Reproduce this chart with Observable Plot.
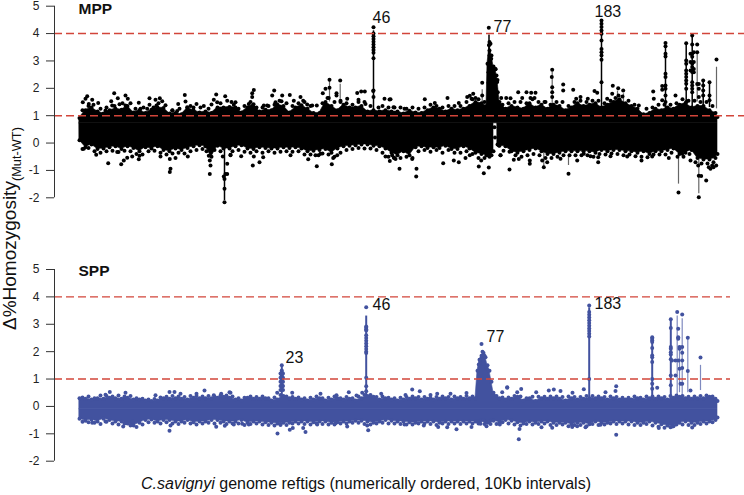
<!DOCTYPE html>
<html>
<head>
<meta charset="utf-8">
<script src="https://cdn.jsdelivr.net/npm/d3@7"></script>
<script src="https://cdn.jsdelivr.net/npm/@observablehq/plot@0.6"></script>
<style>
html,body{margin:0;padding:0;background:#fff}
#fig{position:relative;width:744px;height:495px;overflow:hidden;font-family:"Liberation Sans",Arial,sans-serif;color:#111}
#fig svg{position:absolute;left:0;background:transparent;overflow:visible}
#ytitle{position:absolute;left:0;top:330px;transform-origin:0 0;transform:rotate(-90deg);font-size:19px;line-height:19px;white-space:nowrap}
#ytitle span{font-size:12.8px;position:relative;top:5px}
#xtitle{position:absolute;left:141px;top:475px;font-size:16px;line-height:18px;white-space:nowrap}
</style>
</head>
<body>
<div id="fig"></div>
<script>
// ---- Data. x = position along the ordered genome, y = delta % homozygosity
const yTicks = [-2,-1,0,1,2,3,4,5];
const thresholds = [1,4];

// Outline of the dense band, MPP panel
const mppBandX = [
79,85,91,97,103,109,115,121,127,133,
139,145,151,157,163,169,175,181,187,193,
199,205,211,217,223,229,235,241,247,253,
259,265,271,277,283,289,295,301,307,313,
319,325,331,337,343,349,355,361,367,373,
379,385,391,397,403,409,415,421,427,433,
439,445,451,457,463,469,475,481,486,487,489,
491,493,495,497,499,505,511,517,523,529,
535,541,547,553,559,565,571,577,583,589,
595,601,607,613,619,625,631,637,643,649,
655,661,667,673,679,685,691,697,703,709,
715,717];
const mppBandHigh = [
.92,1.2,1.3,1.15,1.08,1.2,1.25,1.22,1.35,1.12,
1.2,1.1,1.22,1.3,1.28,1.08,1.1,1.05,1.28,1.2,
1.12,1.15,1.1,1.3,1.3,1.32,1.3,1.12,1.3,1.42,
1.15,1.22,1.2,1.4,1.35,1.12,1.3,1.38,1.25,1.1,
1.1,1.5,1.35,1.2,1.4,1.3,1.3,1.35,1.15,1.2,
1.15,1.2,1.15,1.15,1.08,1.18,1.12,1.1,1.2,1.3,
1.25,1.15,1.25,1.2,1.25,1.35,1.5,1.45,1.35,2.9,3.6,
3.2,2.8,2.7,2.3,1.5,1.25,1.35,1.3,1.25,1.45,
1.3,1.4,1.25,1.4,1.35,1.2,1.3,1.45,1.35,1.4,
1.45,1.3,1.4,1.5,1.6,1.45,1.35,1.25,1.05,1.1,
1.25,1.2,1.3,1.25,1.4,1.45,1.3,1.35,1.35,1.2,
1.1,.95];
const mppBandLow = [
.1,-.15,-.05,-.22,-.2,-.15,-.12,-.22,-.12,-.18,
-.3,-.15,-.2,-.12,-.25,-.3,-.2,-.25,-.18,-.12,
-.08,-.12,-.5,-.1,-.2,-.2,-.12,-.08,-.2,-.22,
-.15,-.18,-.2,-.2,-.15,-.18,-.15,-.2,-.3,-.28,
-.25,-.22,-.35,-.2,-.12,-.1,-.08,-.05,-.05,-.1,
-.12,-.2,-.35,-.45,-.3,-.45,-.15,-.12,-.18,-.15,
-.18,-.1,-.22,-.22,-.12,-.2,-.35,-.4,-.45,-.45,-.5,
-.45,-.3,NaN,-.05,-.1,-.12,-.3,-.35,-.3,-.25,
-.2,-.3,-.4,-.4,-.35,-.3,-.3,-.3,-.3,-.3,
-.35,-.25,-.3,-.25,-.25,-.3,-.3,-.35,-.3,-.4,
-.3,-.3,-.25,-.2,-.4,-.35,-.25,-.55,-.6,-.6,
-.55,-.4];
const mppBandMiddle = .72;

// Scattered points along the band's edges, MPP panel
const mppEdgeHighX = [82,88,93,100,106,114,119,122,130,135,143,149,153,158,165,172,179,190,193,200,208,220,231,238,244,250,256,262,268,274,279,286,292,298,304,310,322,327,334,340,346,352,358,364,370,378,382,388,394,400,406,412,418,424,430,436,442,448,454,460,466,472,478,484,502,508,514,520,526,532,538,544,550,556,562,568,574,580,586,592,598,604,610,615,622,628,634,646,652,658,664,670,676,682,688,694,700,706,712];
const mppEdgeHighY = [1.2,1.35,1.4,1.25,1.3,1.35,1.42,1.45,1.45,1.25,1.3,1.4,1.3,1.45,1.38,1.2,1.25,1.35,1.3,1.3,1.25,1.45,1.5,1.25,1.35,1.5,1.3,1.3,1.35,1.4,1.55,1.45,1.35,1.45,1.5,1.35,1.45,1.65,1.5,1.5,1.45,1.4,1.5,1.5,1.35,1.3,1.35,1.3,1.3,1.3,1.25,1.3,1.25,1.3,1.4,1.35,1.3,1.35,1.35,1.35,1.5,1.6,1.6,1.5,1.4,1.45,1.5,1.5,1.45,1.6,1.5,1.5,1.4,1.5,1.5,1.35,1.5,1.55,1.5,1.55,1.55,1.45,1.55,1.65,1.7,1.55,1.4,1.25,1.3,1.4,1.4,1.4,1.45,1.6,1.55,1.55,1.5,1.5,1.35];
const mppEdgeLowX = [82,88,94,100,106,112,118,124,130,136,142,148,154,160,166,172,178,184,190,196,202,206,214,220,232,238,244,250,256,262,268,274,280,286,292,298,304,310,318,322,328,334,340,346,352,358,364,370,376,382,388,394,400,406,412,418,424,430,436,442,448,454,460,466,472,478,484,503,509,515,521,527,533,539,545,551,557,563,569,575,581,587,593,599,605,611,617,623,629,635,641,647,653,659,665,671,677,683,689,695,701,707,713];
const mppEdgeLowY = [-.22,-.18,-.3,-.35,-.3,-.28,-.33,-.28,-.3,-.4,-.42,-.3,-.28,-.35,-.42,-.38,-.35,-.38,-.3,-.25,-.22,-.3,-.25,-.3,-.3,-.25,-.32,-.35,-.3,-.35,-.3,-.35,-.32,-.3,-.32,-.3,-.42,-.42,-.45,-.38,-.42,-.5,-.35,-.25,-.22,-.18,-.2,-.2,-.25,-.35,-.5,-.55,-.55,-.5,-.55,-.3,-.25,-.32,-.25,-.35,-.25,-.35,-.35,-.3,-.4,-.55,-.55,-.28,-.32,-.45,-.5,-.45,-.4,-.45,-.55,-.55,-.5,-.45,-.45,-.45,-.45,-.45,-.5,-.4,-.42,-.38,-.4,-.45,-.42,-.48,-.5,-.52,-.42,-.42,-.42,-.35,-.5,-.5,-.4,-.7,-.75,-.75,-.7];

// Individually visible points, MPP panel
const mppPointX = [
113.7,86.7,85,82.3,91.7,97.7,88.3,117.3,125,127.3,
110.7,149,138.3,159.3,155,161.7,184.3,185,177.7,196,
203.3,215.7,213.3,224.7,226.7,211,216.7,171.7,176.7,125,
111.7,105,156,186.7,140,146.7,
107.7,95.7,120.7,123.3,126.7,131.7,138.3,139,160,169.3,
170,169.3,175,187.3,116.7,83.3,209.3,210,209.3,208.3,
210,224,224,224,225,223.3,226.7,222.3,226.7,230,
329,339.7,329,325,322.3,336,336,328.3,253.3,251.7,
251.7,273.7,271.7,281.7,289.3,356.7,360.7,364.3,372.7,384,
389,346.7,358,365,300,293.3,302.7,281,235,233.3,
275,306.7,263.3,266.7,311.7,316.3,340,248.3,
252.3,259,240.7,316.3,331.3,307.7,315,253.3,262.7,332.7,
336.7,385,389.3,393.3,320,230,290,
373,373,373,373,373,373,373,373,373,373,373,373,
551.7,551.3,551.7,551.7,551.7,481.7,481.7,447,424.3,434.3,
458.3,472.7,469.3,466.7,471,475,517.7,526,530.7,535,
521.7,510,505.7,500.7,530,534,545,404,393,390,
488.3,489,488.5,490,489,489,490.7,489,491.7,495,
488,490,496,494,496.7,488,492,495,497.3,489,495,497,494,490,488,496,
494,494.5,498.3,500,
601,601,601,601,601,601,601,601,601,601,601,
665,665,665,665,665,665,665,665,665,665,661.7,661.7,
685.7,685.7,685.7,685.7,685.7,685.7,685.7,685.7,685.7,685.7,
691.7,691.7,691.7,691.7,691.7,691.7,691.7,691.7,691.7,691.7,691.7,691.7,
696.7,696.7,696.7,693.3,693.3,693.3,693.3,690,690,690,
702.7,702.7,702.7,702.7,709,709,709,716,698.3,698.3,698.3,
562.7,562.7,572.7,594,596.7,612.3,617.7,622.7,611.7,606.7,
618,652.7,653.3,675,638.3,580,575.7,587.3,661.7,
568,678,698.3,698.3,700.7,705.7,697.7,708.3,711.7,715.7,
710,713,597.7,597.7,590,576.7,560,626.7,651.7,641,
668.3,681.7,690,610,583.3,
399,415.7,416,411.7,395,391.7,442.7,453.3,458.3,465,
469.3,478.3,483.3,488.3,480.7,509,529.3,529.3,541.7,543.3,
546.7,500,513.3,518.3];
const mppPointY = [
1.82,1.71,1.62,1.49,1.58,1.46,1.43,1.64,1.74,1.62,
1.53,1.64,1.47,1.64,1.58,1.53,1.76,1.52,1.43,1.43,
1.35,1.77,1.58,1.71,1.55,1.41,1.49,1.19,1.17,1.37,
1.37,1.19,1.37,1.31,1.25,1.25,
-.74,-.43,-.77,-.64,-.54,-.49,-.59,-.46,-.49,-1.06,
-.94,-.58,-.55,-.49,-.33,-.21,-1.13,-.82,-.64,-.46,
-.33,-2.16,-1.67,-1.31,-1.13,-1.22,-1.13,-.49,-.76,-.45,
2.31,2.29,2.02,1.98,1.82,1.82,1.74,1.65,1.94,1.82,
1.68,1.92,1.74,1.74,1.76,1.83,1.88,1.88,1.9,1.62,
1.59,1.62,1.58,1.43,1.68,1.55,1.55,1.53,1.49,1.4,
1.49,1.41,1.37,1.37,1.37,1.37,1.55,1.43,
-.82,-.7,-.48,-.85,-.77,-.59,-.45,-.49,-.52,-.55,
-.45,-.49,-.66,-.54,-.39,-.43,-.45,
4.23,4.0,3.9,3.8,3.7,3.6,3.5,3.4,3.3,3.1,1.92,1.68,
2.68,2.41,2.04,1.86,1.68,2.2,1.74,1.65,1.6,1.46,
1.46,1.8,1.73,1.68,1.62,1.65,1.86,1.86,1.84,1.84,
1.65,1.64,1.65,1.65,1.65,1.65,1.5,1.25,1.31,1.6,
4.21,3.69,3.57,3.63,3.38,3.2,3.08,2.89,2.77,2.71,
2.59,2.47,2.47,2.35,2.23,2.2,2.05,1.98,1.86,1.74,1.68,1.5,1.45,1.32,1.2,1.25,
.58,.2,-.09,-.45,
4.48,4.36,4.24,4.11,3.99,3.75,3.44,3.32,3.2,3.04,2.22,
3.66,3.54,3.26,3.16,2.53,2.41,2.1,1.98,1.74,1.5,2.08,1.95,
3.65,3.02,2.9,2.65,2.53,2.41,2.29,2.17,1.98,1.5,
3.93,3.6,3.26,3.15,2.9,2.78,2.65,2.6,2.22,2.1,1.98,1.86,
3.6,3.32,2.16,3.32,2.96,2.71,2.59,2.65,2.96,3.26,
2.29,2.1,1.92,1.74,2.22,1.74,1.56,3.05,2.16,1.98,1.68,
2.14,1.92,1.95,1.9,1.84,2.09,2,1.92,1.8,1.62,
1.74,1.88,1.62,1.74,1.37,1.68,1.62,1.62,1.56,
-1.12,-1.81,-1.98,-1.19,-1.2,-1.37,-.82,-.88,-.82,-.82,
-.94,-.88,-.7,-.52,-.48,-.64,-.57,-.49,-.49,-.64,
-.55,-.39,-.64,-.48,-.39,
-.94,-1.22,-.94,-.58,-.58,-.45,-.74,-.64,-.7,-.55,
-.45,-.86,-1.1,-.89,-.64,-.97,-.76,-.64,-.64,-.88,
-.7,-.45,-.61,-.58];

// Vertical stems: heavy (solid) and light (grey)
const mppStemX    = [224,373,488.5,601,665,685.7,691.7,702.7,709];
const mppStemFrom = [0,1.2,1.5,1.2,1.2,1.2,1.3,1.3,1.3];
const mppStemTo   = [-2.1,4.1,3.95,4.4,3.55,3.6,3.9,2.3,2.2];
const mppGreyX    = [696.7,716,551.7,481.7,678,698.3,568,623,617,329,339.7,543.3];
const mppGreyFrom = [1.5,1.25,1.3,1.3,-.5,-.5,-.45,1.3,1.4,1.5,1.6,-.3];
const mppGreyTo   = [3.3,2.77,2.6,1.95,-1.5,-1.85,-.82,1.8,1.9,2.25,2.15,-.88];

const mppLabelText = ["46","77","183"];
const mppLabelX = [372,493,594];
const mppLabelY = [4.37,4.07,4.6];

// Outline of the dense band, SPP panel
const sppBandX = [
79,85,91,97,103,109,115,121,127,133,
139,145,151,157,163,169,175,181,187,193,
199,205,211,217,223,229,235,241,247,253,
259,265,271,277,283,289,295,301,307,313,
319,325,331,337,343,349,355,361,367,373,
379,385,391,397,403,409,415,421,427,433,
439,445,451,457,463,469,475,477,479,481,
483,485,487,489,491,493,499,505,511,517,
523,529,535,541,547,553,559,565,571,577,
583,589,595,601,607,613,619,625,631,637,
643,649,655,661,667,673,679,685,691,697,
703,709,715,717];
const sppBandHigh = [
.3,.28,.25,.3,.28,.32,.3,.28,.32,.25,
.25,.22,.2,.22,.3,.28,.3,.28,.25,.32,
.3,.3,.3,.32,.35,.32,.25,.22,.32,.28,
.28,.3,.22,.25,.38,.3,.28,.25,.22,.25,
.3,.22,.25,.3,.25,.28,.22,.3,.38,.35,
.25,.3,.25,.22,.25,.28,.3,.25,.28,.25,
.28,.3,.25,.3,.28,.3,.3,1.3,1.7,1.85,
1.95,1.8,1.5,1.3,.9,.5,.3,.25,.28,.35,
.22,.3,.2,.3,.28,.3,.28,.22,.3,.25,
.28,.3,.3,.3,.25,.3,.25,.25,.25,.3,
.25,.3,.28,.3,.25,.32,.35,.3,.28,.3,
.3,.35,.28,.2];
const sppBandLow = [
-.45,-.52,-.48,-.55,-.45,-.5,-.55,-.55,-.62,-.7,
-.6,-.5,-.48,-.55,-.5,-.5,-.55,-.55,-.5,-.58,
-.55,-.55,-.5,-.5,-.55,-.55,-.55,-.5,-.6,-.55,
-.55,-.58,-.6,-.62,-.6,-.6,-.55,-.55,-.55,-.58,
-.55,-.55,-.6,-.58,-.55,-.55,-.52,-.52,-.55,-.6,
-.55,-.5,-.52,-.55,-.55,-.58,-.6,-.55,-.55,-.55,
-.6,-.55,-.55,-.55,-.55,-.55,-.55,-.55,-.55,-.5,
-.5,-.55,-.6,-.55,-.5,-.52,-.58,-.5,-.52,-.58,
-.62,-.55,-.6,-.55,-.55,-.6,-.6,-.6,-.65,-.6,
-.6,-.65,-.55,-.6,-.6,-.55,-.55,-.55,-.55,-.6,
-.6,-.55,-.6,-.65,-.7,-.72,-.6,-.55,-.6,-.6,
-.55,-.55,-.5,-.4];
const sppBandMiddle = -.1;

// Scattered points along the band's edges, SPP panel
const sppEdgeHighX = [82,88,94,100,106,112,118,124,130,136,142,148,154,160,166,172,178,184,190,196,202,208,214,220,226,232,238,244,250,256,262,268,274,280,286,292,298,304,310,316,322,328,334,340,346,352,358,364,370,376,382,388,394,400,406,412,418,424,430,436,442,448,454,460,466,472,496,502,508,514,520,526,532,538,544,550,556,562,568,574,580,586,592,598,604,610,616,622,628,634,640,646,652,658,664,670,676,682,688,694,700,706,712];
const sppEdgeHighY = [.33,.36,.3,.4,.38,.36,.4,.36,.38,.3,.28,.25,.27,.33,.35,.38,.36,.34,.38,.38,.36,.38,.36,.4,.4,.36,.3,.32,.36,.34,.36,.3,.33,.42,.36,.34,.33,.3,.32,.36,.3,.32,.36,.3,.34,.3,.36,.42,.42,.34,.36,.32,.3,.32,.34,.36,.34,.34,.32,.34,.36,.34,.36,.34,.38,.36,.38,.33,.33,.38,.36,.3,.35,.35,.35,.36,.36,.34,.36,.34,.34,.38,.38,.36,.34,.36,.34,.32,.32,.36,.32,.36,.36,.36,.34,.38,.4,.38,.35,.36,.38,.4,.36];
const sppEdgeLowX = [82,88,94,100,106,112,118,124,130,136,142,148,154,160,166,172,178,184,190,196,202,208,214,220,226,232,238,244,250,256,262,268,274,280,286,292,298,304,310,316,322,328,334,340,346,352,358,364,370,376,382,388,394,400,406,412,418,424,430,436,442,448,454,460,466,472,478,484,490,496,502,508,514,520,526,532,538,544,550,556,562,568,574,580,586,592,598,604,610,616,622,628,634,640,646,652,658,664,670,676,682,688,694,700,706,712];
const sppEdgeLowY = [-.56,-.58,-.6,-.64,-.56,-.62,-.66,-.62,-.7,-.75,-.66,-.58,-.6,-.62,-.58,-.62,-.64,-.6,-.62,-.66,-.62,-.6,-.62,-.6,-.64,-.62,-.62,-.68,-.64,-.62,-.66,-.68,-.7,-.68,-.68,-.62,-.62,-.64,-.66,-.62,-.64,-.66,-.66,-.62,-.62,-.6,-.6,-.64,-.66,-.62,-.6,-.62,-.62,-.64,-.66,-.66,-.62,-.62,-.64,-.68,-.62,-.64,-.62,-.64,-.62,-.62,-.62,-.64,-.64,-.64,-.58,-.62,-.66,-.7,-.64,-.66,-.64,-.62,-.68,-.68,-.66,-.72,-.68,-.68,-.72,-.64,-.68,-.66,-.62,-.64,-.62,-.66,-.68,-.68,-.64,-.7,-.74,-.78,-.76,-.66,-.66,-.68,-.68,-.64,-.62,-.58];

// Individually visible points, SPP panel
const sppPointX = [
109.3,125,169,174,204,229,180,213.3,220.7,196,155,105,
169,91.7,105,122.7,215.7,224.3,233.3,132.3,170,
277,305,302.7,289.3,292.3,241.7,248.3,280,316.7,346.7,367.7,366.7,335,
281.3,281.3,281.3,281.3,281.3,281.3,281.3,281.3,281.3,281.3,
280,282.5,280,282.5,280,282.5,280,282.5,280,282.5,
291.7,320,230,348.3,380.7,356,361.7,276.7,336,
365.7,365.7,365.7,365.7,365.7,365.7,365.7,365.7,365.7,365.7,365.7,365.7,365.7,365.7,365.7,365.7,
481,482,484,479.5,483,486,487.7,478.3,506.7,411.7,
419.3,520.7,506.7,501.7,516.7,535.7,548.3,553.3,466,450,
430,436.7,405,
518.3,519,456,471,486,480,437.7,446.7,423.3,499.3,
541,551.7,404,
588.7,588.7,588.7,588.7,588.7,588.7,588.7,588.7,588.7,588.7,588.7,588.7,
583.3,615.7,615,656.7,605,690,560,572,
615.7,691.7,571.7,585,600,658.3,671.7,576.7,
651.7,651.7,651.7,651.7,651.7,651.7,651.7,651.7,651.7,651.7,651.7,
670.3,670.3,670.3,670.3,670.3,670.3,670.3,670.3,670.3,
676.7,681.7,687.3,687.3,700,
677.7,677.7,677.7,679,679,681.7,681.7,681.7,681.7,681.7,
675,675,678,679,680,671.5];
const sppPointY = [
.53,.5,.53,.53,.58,.52,.46,.41,.46,.46,.41,.43,
-.89,-.6,-.55,-.73,-.74,-.71,-.66,-.55,-.7,
-.99,-.93,-.79,-.85,-.79,-.63,-.66,-.64,-.66,-.73,-.87,-.7,-.61,
1.5,1.31,1.25,1.19,1.13,1.07,1,.9,.8,.7,
1.2,1.2,1.05,1.05,.9,.9,.75,.75,.6,.6,
.5,.46,.5,.52,.46,.4,.5,.5,.41,
3.62,2.92,2.87,2.82,2.77,2.6,2.5,2.4,2.3,2.2,2.1,2,1.95,1.05,.74,.55,
2.28,2,1.85,1.7,1.55,1.4,1.31,1.53,.7,.62,
.55,.64,.68,.52,.52,.52,.58,.62,.49,.46,
.42,.46,.42,
-1.2,-.82,-.83,-.75,-.72,-.63,-.75,-.76,-.7,-.66,
-.76,-.78,-.66,
3.69,3.45,3.35,3.25,3.15,3.05,2.95,2.85,2.75,2.65,2.55,1,
.63,.74,.56,.68,.52,.58,.56,.5,
-1.03,-.77,-.75,-.76,-.67,-.79,-.73,-.72,
2.53,2.47,2.41,2.35,2.13,1.86,1.8,1.62,1,.83,.65,
3.18,2.86,2.17,2.11,1.98,1.9,1.72,1.13,.77,
3.45,3.36,2.51,1.29,1.79,
2.84,2.53,2.47,2.17,2.11,2.17,1.96,1.68,1.4,.83,
1.68,1.13,1.68,1.38,.83,1.68];

const sppStemX     = [281.3,365.7,588.7,651.7,670.3];
const sppStemFrom  = [.3,.4,.3,.4,.3];
const sppStemTo    = [1.5,3.3,3.6,2.5,3.18];
const sppLightX    = [676.7,681.7,679,687.3,700];
const sppLightFrom = [.4,.4,.5,.5,.58];
const sppLightTo   = [3.3,3.2,2.2,2.45,1.5];

const sppLabelText = ["23","46","77","183"];
const sppLabelX = [285,372,486,594];
const sppLabelY = [1.6,3.51,2.37,3.54];

// ---- Drawing
const zip = (o) => {
  const keys = Object.keys(o);
  return o[keys[0]].map((_, i) => Object.fromEntries(keys.map(k => [k, o[k][i]])));
};

function panel({name, top, height, yRange, marginRight, color, lineWidth, r, lightColor, bandX, high, low, middle,
                pointX, pointY, stemX, stemFrom, stemTo, lightX, lightFrom, lightTo, labelText, labelX, labelY, nameY}) {
  const band = zip({x: bandX, high, low});
  const points = zip({x: pointX, y: pointY});
  const stems = zip({x: stemX, a: stemFrom, b: stemTo});
  const lights = zip({x: lightX, a: lightFrom, b: lightTo});
  const labels = zip({x: labelX, y: labelY, t: labelText});
  const svg = Plot.plot({
    width: 744, height, marginLeft: 54, marginRight, marginTop: 0, marginBottom: 0,
    x: {domain: [54, 744], range: [54, 744], axis: null},
    y: {domain: [-2, 5], range: yRange},
    style: {fontFamily: '"Liberation Sans", Arial, sans-serif', background: "transparent", overflow: "visible"},
    marks: [
      Plot.ruleX(lights, {x: "x", y1: "a", y2: "b", stroke: lightColor, strokeWidth: 1.2}),
      Plot.ruleX(stems, {x: "x", y1: "a", y2: "b", stroke: color, strokeWidth: lineWidth}),
      Plot.areaY(band, {x: "x", y1: middle, y2: "high", fill: color, stroke: color, strokeWidth: 0.6}),
      Plot.areaY(band, {x: "x", y1: middle, y2: "low", fill: color, stroke: color, strokeWidth: 0.6}),
      Plot.dot(band, {x: "x", y: "high", r, fill: color}),
      Plot.dot(band.filter(d => !Number.isNaN(d.low)), {x: "x", y: "low", r, fill: color}),
      Plot.dot(points, {x: "x", y: "y", r, fill: color}),
      Plot.ruleY(thresholds, {stroke: "#d2453a", strokeWidth: 1.4, strokeDasharray: "8 4"}),
      Plot.ruleX([54], {y1: -2, y2: 5, stroke: "#333", strokeWidth: 1}),
      Plot.axisY({anchor: "left", ticks: yTicks, tickSize: 8, tickPadding: 7, fontSize: 12, tickFormat: d => String(d),
                  label: null, stroke: "#333", color: "#222"}),
      Plot.text(labels, {x: "x", y: "y", text: "t", textAnchor: "start", lineAnchor: "bottom", fontSize: 16, fill: "#111"}),
      Plot.text([name], {x: 78, y: nameY, text: d => d, textAnchor: "start", lineAnchor: "bottom", fontSize: 15.5, fontWeight: "bold", fill: "#111"})
    ]
  });
  svg.style.top = top + "px";
  return svg;
}

const fig = document.getElementById("fig");
fig.append(panel({
  name: "MPP", top: 0, height: 248, yRange: [197.3, 5.7], marginRight: 0, color: "#000", lineWidth: 1.5, r: 2,
  lightColor: "#666", bandX: mppBandX, high: mppBandHigh, low: mppBandLow, middle: mppBandMiddle,
  pointX: [...mppEdgeHighX, ...mppEdgeLowX, ...mppPointX], pointY: [...mppEdgeHighY, ...mppEdgeLowY, ...mppPointY],
  stemX: mppStemX, stemFrom: mppStemFrom, stemTo: mppStemTo,
  lightX: mppGreyX, lightFrom: mppGreyFrom, lightTo: mppGreyTo,
  labelText: mppLabelText, labelX: mppLabelX, labelY: mppLabelY, nameY: 4.73
}));
fig.append(panel({
  name: "SPP", top: 248, height: 247, yRange: [212.7, 21], marginRight: 14, color: "#42529f", lineWidth: 2, r: 2,
  lightColor: "#7f8abf", bandX: sppBandX, high: sppBandHigh, low: sppBandLow, middle: sppBandMiddle,
  pointX: [...sppEdgeHighX, ...sppEdgeLowX, ...sppPointX], pointY: [...sppEdgeHighY, ...sppEdgeLowY, ...sppPointY],
  stemX: sppStemX, stemFrom: sppStemFrom, stemTo: sppStemTo,
  lightX: sppLightX, lightFrom: sppLightFrom, lightTo: sppLightTo,
  labelText: sppLabelText, labelX: sppLabelX, labelY: sppLabelY, nameY: 4.78
}));

const yt = document.createElement("div");
yt.id = "ytitle";
yt.innerHTML = "Δ%Homozygosity<span>(Mut-WT)</span>";
fig.append(yt);
const xt = document.createElement("div");
xt.id = "xtitle";
xt.innerHTML = "<i>C.savignyi</i> genome reftigs (numerically ordered, 10Kb intervals)";
fig.append(xt);
</script>
</body>
</html>
